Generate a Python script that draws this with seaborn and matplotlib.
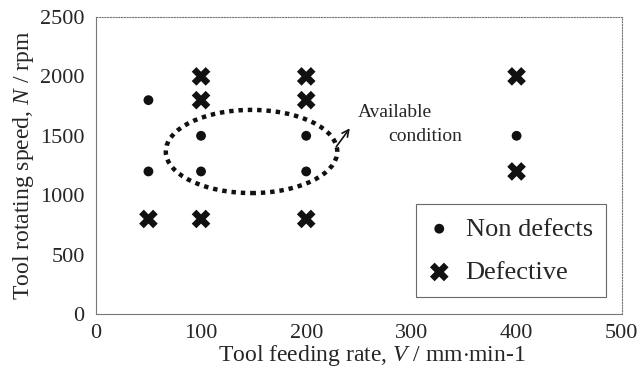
import matplotlib
matplotlib.use("Agg")
import matplotlib.pyplot as plt
import seaborn as sns
import pandas as pd
from matplotlib.patches import Ellipse

# Data
ok_feed = [50, 50, 100, 100, 200, 200, 400]
ok_speed = [1800, 1200, 1500, 1200, 1500, 1200, 1500]
bad_feed = [50, 100, 100, 100, 200, 200, 200, 400, 400]
bad_speed = [800, 2000, 1800, 800, 2000, 1800, 800, 2000, 1200]
labels = ["Non defects", "Defective"]
x_ticks = [0, 100, 200, 300, 400, 500]
y_ticks = [0, 500, 1000, 1500, 2000, 2500]

df = pd.DataFrame({
    "feed": ok_feed + bad_feed,
    "speed": ok_speed + bad_speed,
    "kind": [labels[0]] * len(ok_feed) + [labels[1]] * len(bad_feed),
})

sns.set_theme(style="white")
plt.rcParams["font.family"] = ["Liberation Serif", "DejaVu Serif"]
plt.rcParams["mathtext.fontset"] = "custom"
plt.rcParams["mathtext.it"] = "Liberation Serif:italic"
plt.rcParams["mathtext.rm"] = "Liberation Serif"

fig = plt.figure(figsize=(6.39, 3.69), dpi=100)
ax = fig.add_axes([0.150, 0.149, 0.823, 0.805])

sub_ok = df[df.kind == labels[0]]
sub_bad = df[df.kind == labels[1]]
sns.scatterplot(data=sub_ok, x="feed", y="speed", marker="o", color="#111111",
                s=50, edgecolor="none", ax=ax, label=labels[0])
sns.scatterplot(data=sub_bad, x="feed", y="speed", marker="X", color="#111111",
                s=180, edgecolor="none", ax=ax, label=labels[1])

ax.set_xlim(0, 500)
ax.set_ylim(0, 2500)
ax.set_xticks(x_ticks)
ax.set_yticks(y_ticks)
ax.tick_params(axis="both", labelsize=16, length=2, direction="in", color="#999999")
ax.tick_params(axis="y", pad=8)
ax.tick_params(axis="x", pad=7)
ax.set_xlabel("Tool feeding rate, $V$ / mm$\\cdot$min-1", fontsize=17, labelpad=0)
ax.set_ylabel("Tool rotating speed, $N$ / rpm", fontsize=17, labelpad=3)
ax.xaxis.set_label_coords(0.525, -0.097)

for side in ["top", "right"]:
    ax.spines[side].set_linestyle((0, (1, 1.5)))
    ax.spines[side].set_color("#777777")
    ax.spines[side].set_linewidth(0.8)
for side in ["left", "bottom"]:
    ax.spines[side].set_color("#777777")
    ax.spines[side].set_linewidth(0.8)
ax.spines["bottom"].set_linestyle((0, (3, 1)))

ell = Ellipse((148, 1368), 163, 700, fill=False, linestyle=(0, (1, 1.1)),
              linewidth=3.2, edgecolor="#111111")
ax.add_patch(ell)
ax.annotate("", xy=(243, 1582), xytext=(227, 1389),
            arrowprops=dict(arrowstyle="->", color="#111111", lw=1.2))
ax.text(249, 1692, "Available", fontsize=14, ha="left", va="center")
ax.text(278, 1490, "condition", fontsize=14, ha="left", va="center")

leg = ax.legend(loc="lower right", bbox_to_anchor=(0.970, 0.057), fontsize=19,
                frameon=True, fancybox=False, edgecolor="#444444",
                handletextpad=0.6, borderpad=0.5, labelspacing=0.75,
                handlelength=0.8, borderaxespad=0)
leg.get_frame().set_linewidth(0.8)

fig.savefig("out.png", dpi=100)
